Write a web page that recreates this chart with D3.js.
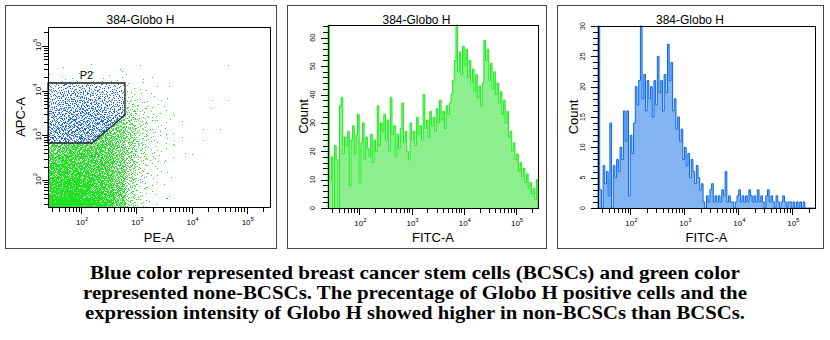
<!DOCTYPE html>
<html>
<head>
<meta charset="utf-8">
<script src="https://cdn.jsdelivr.net/npm/d3@7"></script>
<style>
  body { margin: 0; background: #fff; }
  svg { display: block; }
</style>
</head>
<body>
<svg id="chart" width="830" height="340"></svg>
<script>
'use strict';

// ---- data -------------------------------------------------------------
const panelTitle = '384-Globo H';
const logDomain = [25.1, 263000];          // display range of every log axis
const decades = [100, 1000, 10000, 100000];
const decadeExp = ['2', '3', '4', '5'];

// P2 gate vertices (PE-A, APC-A)
const gateName = 'P2';
const gateX = [25.1, 622, 622, 157, 25.1];
const gateY = [14760, 14760, 2845, 675, 675];

// event cloud of the dot plot: events per 0.2-decade cell, rows from the bottom (APC-A 10^1.4 up)
const cellStep = 0.2;
const cloudRows = [
  [170, 170, 160, 150, 135, 105, 65, 24, 7, 2, 1, 0],
  [140, 140, 140, 130, 115, 95, 58, 22, 7, 2, 1, 0],
  [125, 130, 130, 125, 110, 88, 58, 24, 8, 3, 1, 0],
  [110, 115, 115, 110, 100, 82, 58, 26, 10, 3, 1, 1],
  [95, 100, 105, 100, 95, 80, 58, 28, 11, 4, 2, 0],
  [80, 88, 95, 95, 88, 76, 56, 30, 12, 5, 2, 1],
  [68, 75, 80, 84, 80, 72, 55, 32, 13, 6, 2, 1],
  [40, 44, 46, 48, 66, 64, 52, 32, 14, 6, 3, 1],
  [40, 44, 46, 46, 50, 58, 52, 32, 14, 6, 3, 1],
  [36, 42, 44, 44, 44, 46, 46, 28, 12, 5, 2, 1],
  [34, 38, 40, 40, 38, 38, 34, 20, 9, 4, 2, 1],
  [28, 33, 35, 35, 33, 30, 27, 12, 6, 3, 1, 0],
  [22, 27, 30, 28, 25, 22, 20, 6, 3, 2, 1, 0],
  [15, 20, 20, 19, 17, 15, 12, 3, 2, 1, 0, 0],
  [1, 2, 2, 2, 1, 2, 2, 1, 1, 0, 0, 0],
  [0, 1, 0, 1, 1, 0, 1, 0, 0, 0, 0, 0]
];
// scattered single events outside the cloud
const outlierX = [1164, 45700, 2000, 550, 4060, 2910, 24400, 45700, 23400, 4610, 6710, 16100, 32700,
                  16100, 7600, 10600, 4610, 4240, 2370, 3590, 6710, 2370, 1560];
const outlierY = [37240, 37240, 20100, 26000, 12020, 6150, 6150, 6150, 4080, 3150, 1990, 1320, 1320,
                  787, 384, 364, 610, 112, 130, 38, 873, 2200, 4300];

// FITC-A histograms, 128 channels over the log range
const greenCounts = [
  66, 10, 18, 0, 22, 17, 0, 36, 39, 19, 25, 22, 27, 8, 24, 29,
  19, 26, 33, 9, 23, 30, 17, 25, 21, 18, 26, 16, 24, 20, 36, 22,
  30, 27, 33, 24, 31, 20, 39, 26, 29, 18, 26, 21, 28, 37, 23, 27,
  20, 17, 30, 24, 27, 22, 32, 26, 29, 24, 40, 28, 31, 25, 34, 29,
  32, 27, 35, 30, 38, 31, 34, 28, 36, 33, 37, 40, 45, 52, 66, 48,
  55, 47, 57, 50, 56, 46, 52, 44, 49, 41, 47, 39, 43, 36, 44, 59,
  52, 56, 45, 51, 42, 48, 40, 44, 37, 41, 33, 38, 30, 34, 25, 27,
  20, 23, 17, 19, 13, 16, 11, 14, 9, 12, 7, 9, 5, 7, 3, 10
];
const blueCounts = [
  31, 3, 0, 7, 4, 6, 2, 14, 0, 7, 5, 8, 6, 10, 8, 16,
  11, 16, 2, 12, 9, 14, 20, 17, 21, 30, 18, 22, 16, 21, 18, 20,
  15, 21, 17, 25, 19, 21, 16, 22, 19, 27, 21, 24, 16, 18, 13, 15,
  11, 13, 8, 10, 7, 9, 5, 8, 6, 4, 7, 5, 3, 4, 1, 0,
  2, 1, 3, 4, 1, 2, 1, 2, 1, 3, 2, 6, 1, 2, 1, 1,
  0, 1, 2, 3, 1, 2, 1, 2, 1, 3, 2, 1, 2, 1, 3, 1,
  2, 1, 0, 2, 3, 1, 2, 1, 0, 2, 1, 0, 1, 2, 1, 0,
  1, 1, 0, 1, 0, 1, 0, 1, 0, 1, 0, 0, 0, 0, 0, 0
];

const caption = [
  'Blue color represented breast cancer stem cells (BCSCs) and green color',
  'represented none-BCSCs. The precentage of Globo H positive cells and the',
  'expression intensity of Globo H showed higher in non-BCSCs than BCSCs.'
];

// ---- helpers ----------------------------------------------------------
const svg = d3.select('#chart');
const sans = 'Liberation Sans, Arial, sans-serif';
const isDecade = v => Math.abs(Math.log10(v) - Math.round(Math.log10(v))) < 1e-9;

// quasi-random spread used to place a cell's events inside that cell
function halton(i, b) {
    let f = 1, r = 0;
    while (i > 0) { f /= b; r += f * (i % b); i = Math.floor(i / b); }
    return r;
}

function panelFrame(box, plot) {
    const g = svg.append('g');
    g.append('rect')
        .attr('x', box.x + 0.5).attr('y', box.y + 0.5)
        .attr('width', box.w).attr('height', box.h)
        .attr('fill', 'none').attr('stroke', '#444');
    g.append('text')
        .attr('x', box.x + box.w / 2).attr('y', 24)
        .attr('text-anchor', 'middle')
        .style('font', '12px ' + sans)
        .text(panelTitle);
    return g;
}

function logAxisBottom(g, x, y0, label) {
    const ticks = x.ticks();
    g.append('g')
        .attr('shape-rendering', 'crispEdges')
        .selectAll('line')
        .data(ticks)
        .join('line')
        .attr('x1', d => Math.round(x(d)) + 0.5)
        .attr('x2', d => Math.round(x(d)) + 0.5)
        .attr('y1', y0)
        .attr('y2', d => y0 + (isDecade(d) ? 6 : 4))
        .attr('stroke', '#000');
    const lab = g.append('g')
        .selectAll('text')
        .data(decades)
        .join('text')
        .attr('x', d => x(d) + 1)
        .attr('y', y0 + 17)
        .attr('text-anchor', 'middle')
        .style('font', '8px ' + sans);
    lab.append('tspan').text('10');
    lab.append('tspan').attr('dy', -4).style('font-size', '6px').text((d, i) => decadeExp[i]);
    const r = x.range();
    g.append('text')
        .attr('x', (r[0] + r[1]) / 2)
        .attr('y', 242)
        .attr('text-anchor', 'middle')
        .style('font', '13px ' + sans)
        .text(label);
}

function linearAxisLeft(g, y, x0, step, major, labelX) {
    const max = y.domain()[1];
    const ticks = d3.range(0, max + 0.001, step);
    g.append('g')
        .attr('shape-rendering', 'crispEdges')
        .selectAll('line')
        .data(ticks)
        .join('line')
        .attr('x1', d => x0 - (d % major === 0 ? 7 : 5))
        .attr('x2', x0)
        .attr('y1', d => Math.round(y(d)) + 0.5)
        .attr('y2', d => Math.round(y(d)) + 0.5)
        .attr('stroke', '#000');
    g.append('g')
        .selectAll('text')
        .data(ticks.filter(d => d % major === 0))
        .join('text')
        .attr('transform', d => `translate(${labelX},${y(d)}) rotate(-90)`)
        .attr('text-anchor', 'middle')
        .style('font', '7px ' + sans)
        .text(d => d);
}

function histogram(box, plot, counts, yMax, yStep, yMajor, fill, stroke) {
    const g = panelFrame(box, plot);
    const x = d3.scaleLog().domain(logDomain).range([plot.x0, plot.x1]);
    const y = d3.scaleLinear().domain([0, yMax]).range([plot.y1, plot.y0]).clamp(true);
    const lo = Math.log10(logDomain[0]), hi = Math.log10(logDomain[1]);
    const n = counts.length;
    const edge = i => Math.pow(10, lo + (hi - lo) * i / n);

    const pts = [[x(edge(0)), y(0)]];
    counts.forEach((c, i) => {
        pts.push([x(edge(i)), y(c)]);
        pts.push([x(edge(i + 1)), y(c)]);
    });
    pts.push([x(edge(n)), y(0)]);

    g.append('path')
        .attr('d', d3.line()(pts) + 'Z')
        .attr('fill', fill);
    g.append('path')
        .attr('d', d3.line()(pts))
        .attr('fill', 'none')
        .attr('stroke', stroke)
        .attr('stroke-width', 1);

    g.append('rect')
        .attr('x', plot.x0 + 0.5).attr('y', plot.y0 + 0.5)
        .attr('width', plot.x1 - plot.x0).attr('height', plot.y1 - plot.y0)
        .attr('fill', 'none').attr('stroke', '#000');

    logAxisBottom(g, x, plot.y1 + 0.5, 'FITC-A');
    linearAxisLeft(g, y, plot.x0, yStep, yMajor, plot.x0 - 13);
    g.append('text')
        .attr('transform', `translate(${plot.x0 - 20},${(plot.y0 + plot.y1) / 2}) rotate(-90)`)
        .attr('text-anchor', 'middle')
        .style('font', '13px ' + sans)
        .text('Count');
}

// ---- panel 1: PE-A vs APC-A dot plot ----------------------------------
(function dotPlot() {
    const box = { x: 5, y: 5, w: 271, h: 243 };
    const plot = { x0: 48, x1: 270, y0: 27, y1: 207 };
    const g = panelFrame(box, plot);
    const x = d3.scaleLog().domain(logDomain).range([plot.x0, plot.x1]);
    const y = d3.scaleLog().domain(logDomain).range([plot.y1, plot.y0]);
    const lo = Math.log10(logDomain[0]);

    const gate = gateX.map((v, i) => [x(v), y(gateY[i])]);

    const events = [];
    let k = 1;
    cloudRows.forEach((row, r) => {
        row.forEach((count, c) => {
            for (let j = 0; j < count; ++j, ++k) {
                events.push([
                    Math.pow(10, lo + (c + halton(k, 2)) * cellStep),
                    Math.pow(10, lo + (r + halton(k, 3)) * cellStep)
                ]);
            }
        });
    });
    outlierX.forEach((v, i) => events.push([v, outlierY[i]]));

    g.append('g')
        .attr('shape-rendering', 'crispEdges')
        .selectAll('rect')
        .data(events)
        .join('rect')
        .attr('x', d => Math.min(Math.floor(x(d[0])), plot.x1 - 1))
        .attr('y', d => Math.min(Math.floor(y(d[1])), plot.y1 - 1))
        .attr('width', 1)
        .attr('height', 1)
        .attr('fill', d => d3.polygonContains(gate, [x(d[0]), y(d[1])]) ? '#1f6ee8' : '#22e022');

    g.append('path')
        .attr('d', d3.line()(gate) + 'Z')
        .attr('fill', 'none')
        .attr('stroke', '#222')
        .attr('stroke-width', 1.3);
    g.append('text')
        .attr('x', (gate[0][0] + gate[1][0]) / 2)
        .attr('y', gate[0][1] - 4)
        .attr('text-anchor', 'middle')
        .style('font', '11px ' + sans)
        .text(gateName);

    g.append('rect')
        .attr('x', plot.x0 + 0.5).attr('y', plot.y0 + 0.5)
        .attr('width', plot.x1 - plot.x0).attr('height', plot.y1 - plot.y0)
        .attr('fill', 'none').attr('stroke', '#000');

    logAxisBottom(g, x, plot.y1 + 0.5, 'PE-A');

    // left log axis
    g.append('g')
        .attr('shape-rendering', 'crispEdges')
        .selectAll('line')
        .data(y.ticks())
        .join('line')
        .attr('x1', d => plot.x0 - (isDecade(d) ? 6 : 4))
        .attr('x2', plot.x0)
        .attr('y1', d => Math.round(y(d)) + 0.5)
        .attr('y2', d => Math.round(y(d)) + 0.5)
        .attr('stroke', '#000');
    const lab = g.append('g')
        .selectAll('text')
        .data(decades)
        .join('text')
        .attr('transform', d => `translate(${plot.x0 - 7},${y(d) - 1}) rotate(-90)`)
        .attr('text-anchor', 'middle')
        .style('font', '8px ' + sans);
    lab.append('tspan').text('10');
    lab.append('tspan').attr('dy', -4).style('font-size', '6px').text((d, i) => decadeExp[i]);
    g.append('text')
        .attr('transform', `translate(25,${(plot.y0 + plot.y1) / 2}) rotate(-90)`)
        .attr('text-anchor', 'middle')
        .style('font', '13px ' + sans)
        .text('APC-A');
})();

// ---- panels 2 and 3: FITC-A histograms --------------------------------
histogram({ x: 287, y: 5, w: 259, h: 243 }, { x0: 328, x1: 538, y0: 25, y1: 208 },
          greenCounts, 64.5, 2, 10, '#8cee8c', '#14ee14');
histogram({ x: 557, y: 5, w: 266, h: 243 }, { x0: 598, x1: 815, y0: 26, y1: 208 },
          blueCounts, 30, 1, 5, '#82b4f2', '#0a66e8');

// ---- caption ----------------------------------------------------------
const captionWidths = [650, 664, 660];
svg.append('g')
    .selectAll('text')
    .data(caption)
    .join('text')
    .attr('x', 415)
    .attr('y', (d, i) => 279 + i * 20)
    .attr('text-anchor', 'middle')
    .attr('textLength', (d, i) => captionWidths[i])
    .attr('lengthAdjust', 'spacingAndGlyphs')
    .style('font', 'bold 18px "Liberation Serif", "Times New Roman", serif')
    .text(d => d);
</script>
</body>
</html>
